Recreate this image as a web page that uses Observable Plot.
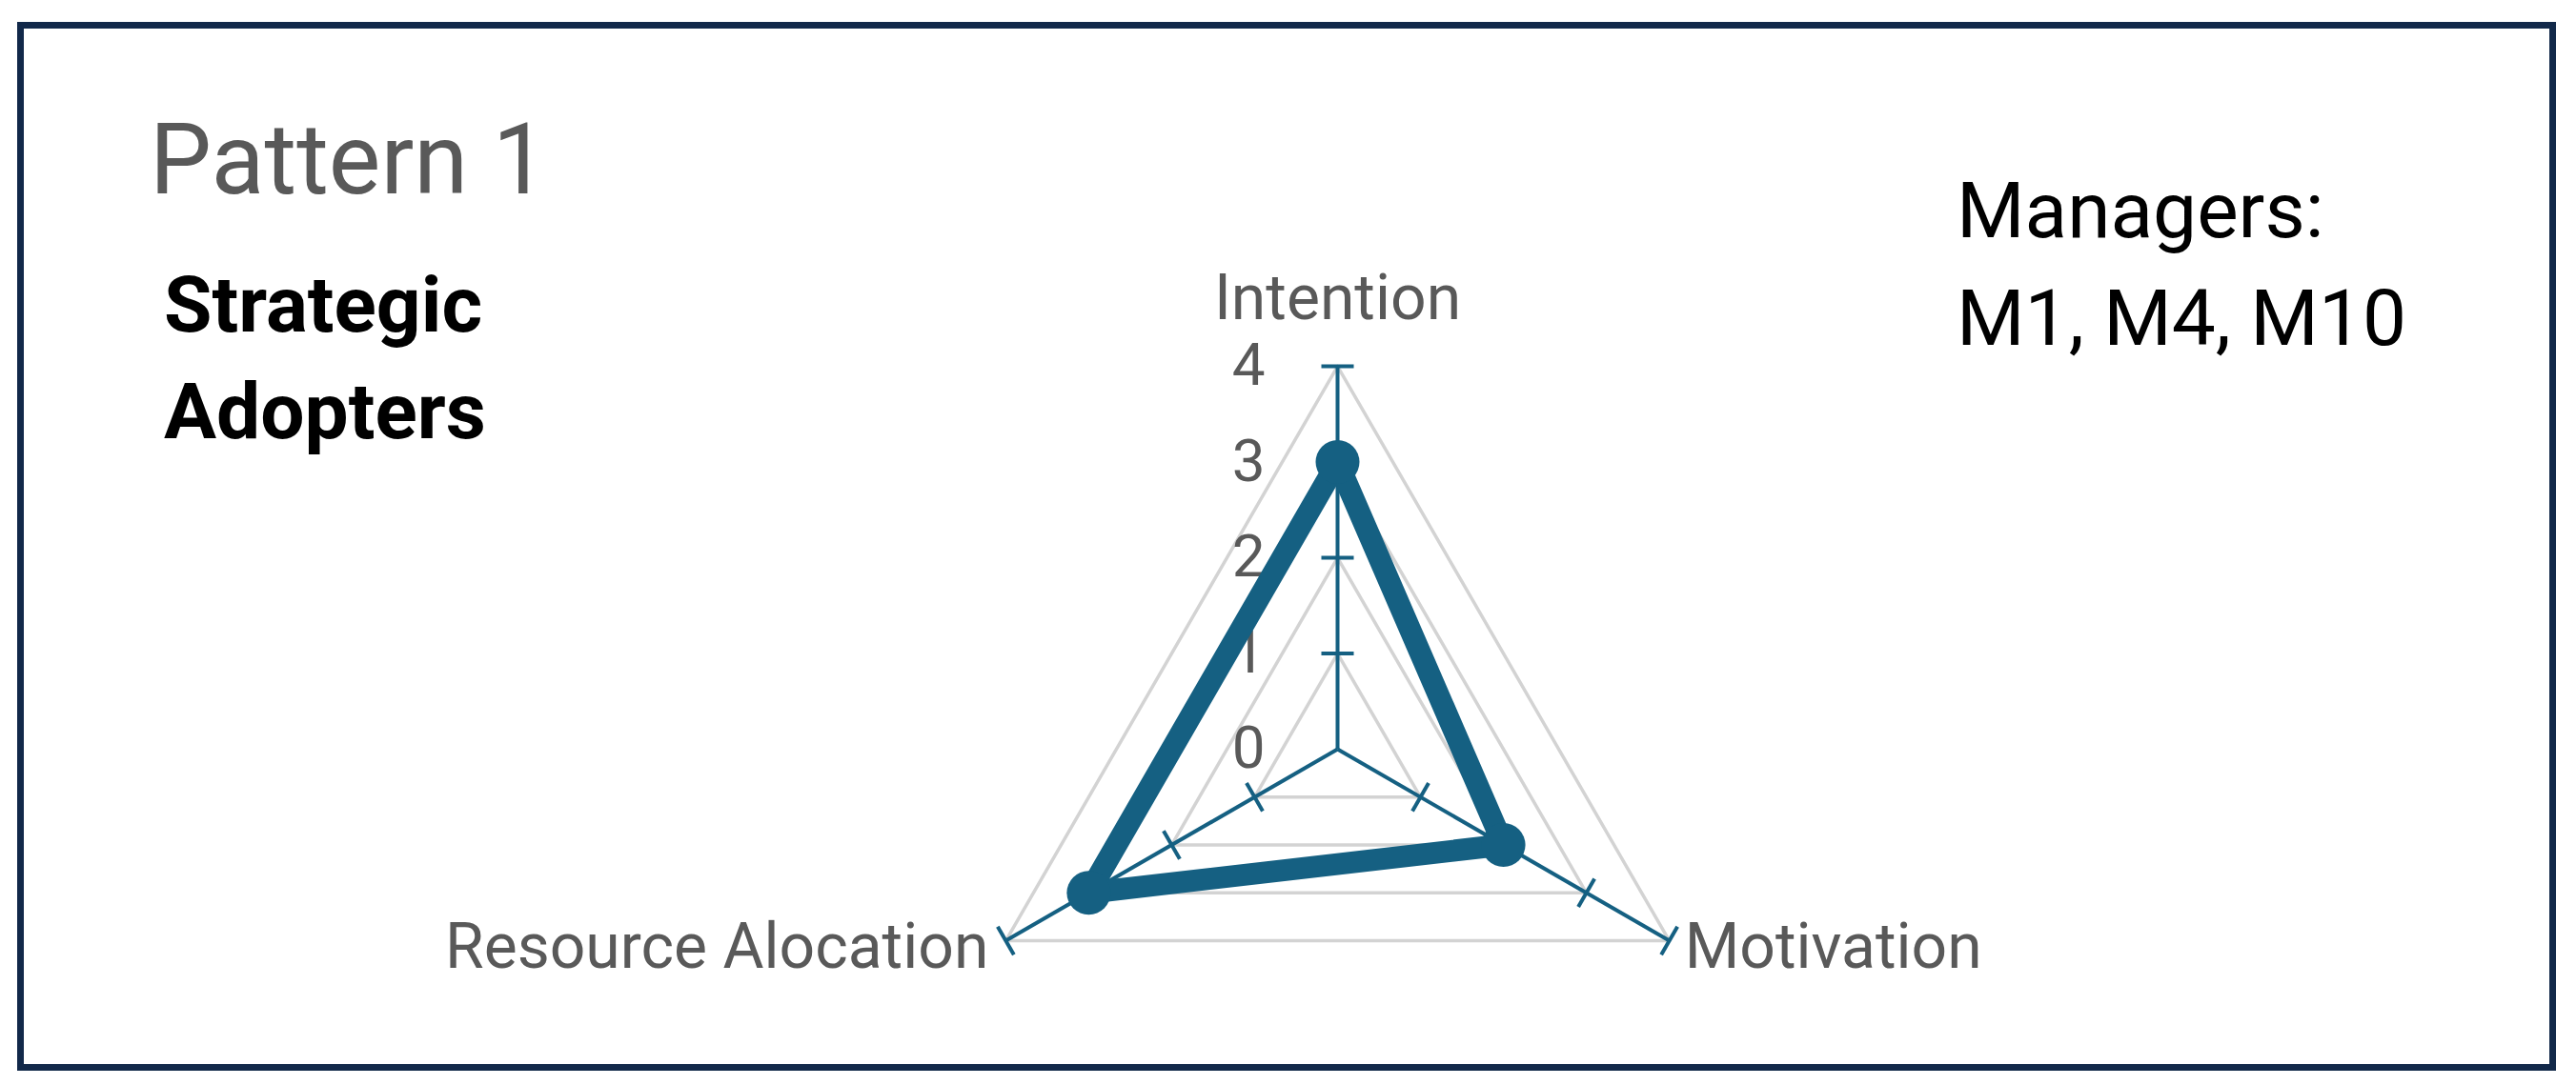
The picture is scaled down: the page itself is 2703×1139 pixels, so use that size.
<!DOCTYPE html>
<html><head><meta charset="utf-8">
<script src="https://cdn.jsdelivr.net/npm/d3@7"></script>
<script src="https://cdn.jsdelivr.net/npm/@observablehq/plot@0.6"></script>
<style>
html,body{margin:0;padding:0;background:#fff;}
#wrap{position:relative;width:2703px;height:1139px;overflow:hidden;font-family:Roboto, sans-serif;}
#chart{position:absolute;left:0;top:0;}
#frame{position:absolute;left:18px;top:23px;width:2664px;height:1101px;border:7px solid #12294a;box-sizing:border-box;}
.t{position:absolute;white-space:nowrap;}
</style></head><body>
<div id="wrap">
  <div id="chart"></div>
  <div id="frame"></div>
  <div class="t" style="left:157px;top:116px;font-size:103px;line-height:103px;color:#595959">Pattern 1</div>
  <div class="t" style="left:172px;top:264px;font-size:82px;line-height:112px;font-weight:700;color:#000">Strategic<br>Adopters</div>
  <div class="t" style="left:2053px;top:165px;font-size:82px;line-height:113px;color:#000">Managers:<br>M1, M4, M10</div>
</div>
<script>
// ---- data ----
const categories = ["Intention", "Motivation", "Resource Alocation"];
const values = [3, 2, 3];
const tickValues = [0, 1, 2, 3, 4];

// ---- layout ----
const W = 2703, H = 1139, cx = 1403, cy = 786, R = 402;
const rMax = d3.max(tickValues);
const k = R / rMax;
const n = categories.length;
const ang = i => Math.PI / 2 - i * 2 * Math.PI / n;
const color = "#156082";

const pts = values.map((v, i) => ({cat: categories[i], v, x: v * Math.cos(ang(i)), y: v * Math.sin(ang(i))}));
const closed = [...pts, pts[0]];
const levels = tickValues.filter(t => t > 0);
const rings = levels.flatMap(t => d3.range(n + 1).map(j => ({t, x: t * Math.cos(ang(j % n)), y: t * Math.sin(ang(j % n))})));
const spokes = categories.map((c, i) => ({c, x1: 0, y1: 0, x2: rMax * Math.cos(ang(i)), y2: rMax * Math.sin(ang(i))}));
const half = 17 / k;
const tickMarks = categories.flatMap((c, i) => levels.map(t => {
  const a = ang(i), px = -Math.sin(a), py = Math.cos(a);
  const bx = t * Math.cos(a), by = t * Math.sin(a);
  return {x1: bx - half * px, y1: by - half * py, x2: bx + half * px, y2: by + half * py};
}));
const labels = categories.map((c, i) => ({c, i, x: rMax * Math.cos(ang(i)), y: rMax * Math.sin(ang(i))}));

const plot = Plot.plot({
  width: W, height: H, margin: 0,
  x: {domain: [-cx / k, (W - cx) / k], axis: null},
  y: {domain: [-(H - cy) / k, cy / k], axis: null},
  style: {fontFamily: "Roboto, sans-serif", background: "transparent"},
  marks: [
    Plot.line(rings, {x: "x", y: "y", z: "t", stroke: "#d3d3d3", strokeWidth: 3.5}),
    Plot.link(spokes, {x1: "x1", y1: "y1", x2: "x2", y2: "y2", stroke: color, strokeWidth: 4}),
    Plot.link(tickMarks, {x1: "x1", y1: "y1", x2: "x2", y2: "y2", stroke: color, strokeWidth: 4}),
    Plot.text(tickValues, {x: d => 0, y: d => d, text: d => String(d), textAnchor: "end", lineAnchor: "middle", dx: -76, fontSize: 62, fill: "#595959"}),
    Plot.line(closed, {x: "x", y: "y", stroke: color, strokeWidth: 23, strokeLinejoin: "round"}),
    Plot.dot(pts, {x: "x", y: "y", r: 23, fill: color}),
    Plot.text(labels.filter(d => d.i === 0), {x: "x", y: "y", text: "c", textAnchor: "middle", lineAnchor: "bottom", dy: -50, fontSize: 66, fill: "#595959"}),
    Plot.text(labels.filter(d => d.i === 1), {x: "x", y: "y", text: "c", textAnchor: "start", lineAnchor: "bottom", dx: 16, dy: 28, fontSize: 66, fill: "#595959"}),
    Plot.text(labels.filter(d => d.i === 2), {x: "x", y: "y", text: "c", textAnchor: "end", lineAnchor: "bottom", dx: -18, dy: 28, fontSize: 66, fill: "#595959"})
  ]
});
document.getElementById("chart").appendChild(plot);
</script>
</body></html>
